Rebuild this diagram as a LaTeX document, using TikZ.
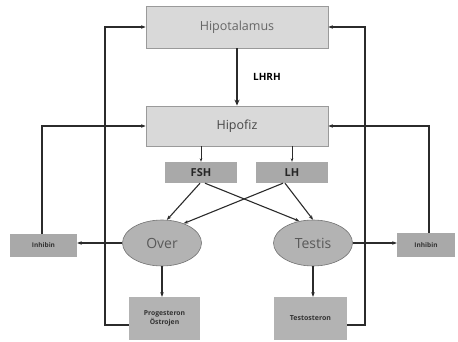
\documentclass[tikz,border=0pt]{standalone}
\usepackage{fontspec}
\setmainfont{Open Sans}
\usetikzlibrary{shapes.geometric,arrows.meta,calc}
\definecolor{lightbox}{HTML}{D9D9D9}
\definecolor{midbox}{HTML}{A9A9A9}
\definecolor{ellfill}{HTML}{B3B3B3}
\definecolor{edgegray}{HTML}{9A9A9A}
\definecolor{linegray}{HTML}{2B2B2B}
\tikzset{
  bigbox/.style={draw=edgegray, fill=lightbox, line width=0.8pt, minimum width=182pt, inner sep=0pt, font=\fontsize{12.5}{14}\selectfont},
  hormbox/.style={fill=midbox, minimum width=72pt, minimum height=21pt, inner sep=0pt, font=\bfseries\fontsize{11}{13}\selectfont, text=black!85},
  smallbox/.style={fill=midbox, inner sep=0pt, font=\bfseries\fontsize{6.5}{8}\selectfont, text=black!80},
  gland/.style={ellipse, draw=black!55, fill=ellfill, line width=0.6pt, minimum width=79pt, minimum height=46pt, inner sep=0pt, font=\fontsize{14}{16}\selectfont, text=black!65},
  ln/.style={draw=linegray, line width=1.1pt},
  arr/.style={ln, -{Stealth[length=4.5pt,width=3.5pt]}},
  thinarr/.style={draw=linegray, line width=0.6pt, -{Stealth[length=3.5pt,width=2.5pt]}}
}
\begin{document}
\begin{tikzpicture}[x=1pt,y=-1pt]
\useasboundingbox (0,0) rectangle (458,342);
% boxes
\node[bigbox, minimum height=42pt, text=black!60] (hipot) at (237,27) {Hipotalamus};
\node[bigbox, minimum height=40pt, text=black!72] (hipof) at (237,126) {Hipofiz};
\node[hormbox] (fsh) at (201,172.5) {FSH};
\node[hormbox] (lh) at (292,172.5) {LH};
\node[gland] (over) at (162,243) {Over};
\node[gland] (testis) at (313,243) {Testis};
\node[smallbox, minimum width=67pt, minimum height=23pt] (inhL) at (43.5,245.5) {Inhibin};
\node[smallbox, minimum width=58pt, minimum height=24pt] (inhR) at (426,245) {Inhibin};
\node[smallbox, fill=ellfill, minimum width=71pt, minimum height=43pt, align=center, font=\bfseries\fontsize{6.8}{9}\selectfont] (prog) at (164.5,318.5) {Progesteron\\Östrojen};
\node[smallbox, fill=ellfill, minimum width=73pt, minimum height=43pt, font=\bfseries\fontsize{7}{9}\selectfont] (testo) at (310.5,318.5) {Testosteron};
% LHRH
\draw[ln, line width=1.6pt, -{Stealth[length=6pt,width=5pt]}] (hipot.south) -- node[right=12pt, font=\bfseries\fontsize{10}{12}\selectfont] (lhrh) {LHRH} (hipof.north);
% hipofiz to hormones
\draw[thinarr] (hipof.south -| fsh) -- (fsh.north);
\draw[thinarr] (hipof.south -| lh) -- (lh.north);
% crossing arrows
\draw[arr] ($(fsh.south)+(-1,0)$) -- (over.78);
\draw[arr] ($(fsh.south)+(4,0)$) -- (testis.122);
\draw[arr] ($(lh.south)+(-9,0)$) -- (over.42);
\draw[arr] ($(lh.south)+(-7,0)$) -- (testis.90);
% glands to inhibin
\draw[arr] (over.west) -- (over.west -| inhL.east);
\draw[arr] (testis.east) -- (testis.east -| inhR.west);
% glands to steroids
\draw[arr] (over.south) -- (over.south |- prog.north);
\draw[arr] (testis.south) -- (testis.south |- testo.north);
% inhibin feedback to hipofiz
\draw[arr] ($(inhL.north)+(-1.5,0)$) |- (hipof.west);
\draw[arr] ($(inhR.north)+(3,0)$) |- (hipof.east);
% steroid feedback to hipotalamus
\coordinate (cL) at (105,325);
\coordinate (cR) at (365,325);
\draw[arr] (prog.west |- cL) -- (cL) -- (cL |- hipot.west) -- (hipot.west);
\draw[arr] (testo.east |- cR) -- (cR) -- (cR |- hipot.east) -- (hipot.east);
\end{tikzpicture}
\end{document}
